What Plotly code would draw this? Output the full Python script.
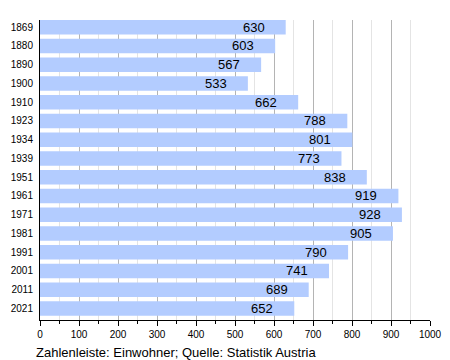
import plotly.graph_objects as go

years = ["1869", "1880", "1890", "1900", "1910", "1923", "1934", "1939",
         "1951", "1961", "1971", "1981", "1991", "2001", "2011", "2021"]
population = [630, 603, 567, 533, 662, 788, 801, 773, 838, 919, 928, 905, 790, 741, 689, 652]
x_ticks = list(range(0, 1001, 100))
caption = "Zahlenleiste: Einwohner; Quelle: Statistik Austria"

FONT = "Liberation Sans, Arial, sans-serif"

fig = go.Figure()
fig.add_trace(go.Bar(
    x=population, y=years, orientation="h",
    marker=dict(color="#b3ccff", line=dict(width=0)),
    hoverinfo="skip",
))

for i, v in enumerate(population):
    fig.add_annotation(x=v, y=i, text=str(v), showarrow=False,
                       xanchor="right", xshift=-19, yshift=0,
                       font=dict(family=FONT, size=13, color="#000"))

fig.add_annotation(xref="paper", yref="paper", x=-0.016, y=-0.107,
                   xanchor="left", yanchor="middle", text=caption, showarrow=False,
                   font=dict(family=FONT, size=13, color="#000"))

# page body has an 8px margin, so the figure is shrunk by 8px and margins shifted
fig.update_layout(
    width=442, height=352,
    margin=dict(l=32, r=20, t=12, b=40, autoexpand=False),
    paper_bgcolor="white", plot_bgcolor="white",
    bargap=0.23, showlegend=False,
    font=dict(family=FONT, color="#000"),
)
fig.update_xaxes(
    range=[0, 1000], tickvals=x_ticks, ticktext=[str(t) for t in x_ticks],
    showgrid=True, gridcolor="#b4b4b4", gridwidth=1,
    showline=True, linecolor="#000", linewidth=1,
    ticks="outside", ticklen=5, tickcolor="#000", tickwidth=1,
    tickfont=dict(size=10, family=FONT),
    minor=dict(dtick=50, tick0=0, showgrid=True, gridcolor="#e4e4e4",
               ticks="outside", ticklen=3, tickcolor="#000"),
    zeroline=False, fixedrange=True, automargin=False,
)
fig.update_yaxes(
    type="category", range=[15.615, -0.385],
    showgrid=False, showline=True, linecolor="#000", linewidth=1,
    ticks="", tickfont=dict(size=10, family=FONT), ticklabelstandoff=4,
    zeroline=False, automargin=False,
)
fig.write_html("out.html")
